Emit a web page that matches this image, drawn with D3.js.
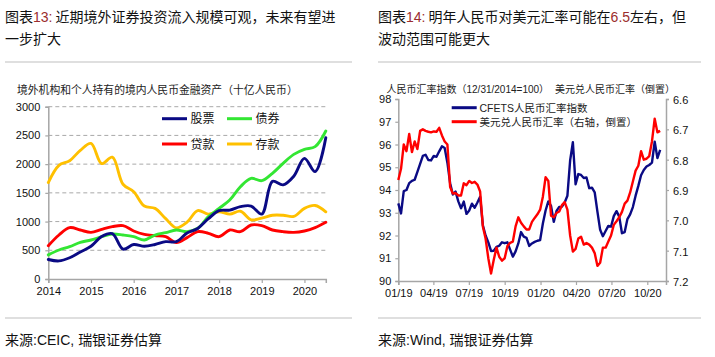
<!DOCTYPE html>
<html><head><meta charset="utf-8">
<script src="https://cdn.jsdelivr.net/npm/d3@7"></script>
<style>
body{margin:0;background:#fff}
svg{display:block}
text{font-family:"Liberation Sans",Arial,"Noto Sans CJK SC",sans-serif;fill:#111}
.cjk{font-family:"Noto Sans CJK SC","Liberation Sans",sans-serif}
</style>
</head><body>
<svg id="c" width="715" height="357"></svg>
<script>
// ---------- Left chart data (十亿人民币) ----------
const quarters = [2014,2014.25,2014.5,2014.75,2015,2015.25,2015.5,2015.75,2016,2016.25,2016.5,2016.75,2017,2017.25,2017.5,2017.75,2018,2018.25,2018.5,2018.75,2019,2019.25,2019.5,2019.75,2020,2020.25,2020.5];
const stocks   = [340,315,370,470,570,740,790,520,600,570,600,650,650,800,880,1050,1190,1200,1260,1270,1130,1700,1640,1790,2100,1870,2460];
const bonds    = [420,505,563,638,679,737,783,766,737,679,766,807,853,824,882,1085,1230,1375,1607,1752,1712,1840,2014,2170,2258,2304,2577];
const loans    = [580,766,894,853,812,865,911,929,836,778,755,737,633,720,824,795,737,853,824,940,929,853,824,812,836,894,987];
const deposits = [1680,1980,2060,2240,2360,2010,2120,1650,1520,1270,1230,1050,890,990,1190,1130,1170,1130,1180,1030,1060,1110,1110,1090,1230,1280,1170];
const leftYTicks = [0,500,1000,1500,2000,2500,3000];
const leftXTicks = [2014,2015,2016,2017,2018,2019,2020];
const leftSeriesNames = ["股票","债券","贷款","存款"];

// ---------- Right chart data (weekly from 2019-01-01) ----------
const cfets = [93.41,92.97,93.95,94.0,94.3,94.4,94.45,94.8,95.15,95.5,95.55,95.32,95.3,95.5,95.46,95.7,95.92,95.85,95.2,94.3,
 93.8,93.93,93.5,93.2,93.49,92.95,93.1,93.4,93.22,93.45,93.7,92.45,92.0,91.7,91.32,91.33,91.5,91.55,91.7,91.66,
 91.7,91.38,91.07,91.3,91.65,92.15,91.95,91.9,91.54,91.65,91.72,91.77,91.8,92.53,93.1,93.5,93.3,92.6,93.08,93.26,
 93.27,93.45,93.75,95.3,96.1,94.25,94.7,94.66,94.53,94.55,94.08,94.1,93.9,93.05,92.25,91.97,92.2,92.42,92.39,92.85,
 93.07,92.83,92.1,92.15,92.72,92.93,93.25,93.75,94.18,94.65,94.88,95.03,95.1,95.2,96.12,95.4,95.76];
const usdcny = [6.867,6.83,6.75,6.772,6.715,6.775,6.74,6.765,6.705,6.70,6.705,6.708,6.71,6.707,6.708,6.695,6.72,6.74,6.75,6.89,
 6.912,6.91,6.918,6.918,6.878,6.884,6.87,6.877,6.873,6.882,6.905,7.02,7.06,7.125,7.175,7.13,7.09,7.12,7.133,7.125,
 7.085,7.074,7.07,7.02,6.99,7.008,7.02,7.03,7.03,7.005,6.992,6.98,6.965,6.922,6.858,6.87,6.985,6.99,6.976,6.971,
 6.95,6.94,6.965,7.05,7.103,7.094,7.06,7.054,7.08,7.075,7.08,7.09,7.108,7.15,7.14,7.09,7.09,7.07,7.05,7.015,
 7.003,6.99,6.972,6.945,6.935,6.908,6.872,6.836,6.82,6.772,6.80,6.797,6.788,6.74,6.665,6.71,6.705];
const rightLeftTicks = [90,91,92,93,94,95,96,97,98];
const rightRightTicks = [6.6,6.7,6.8,6.9,7.0,7.1,7.2];
const rightXTicks = ["2019-01-01","2019-04-01","2019-07-01","2019-10-01","2020-01-01","2020-04-01","2020-07-01","2020-10-01"];
const rightSeriesNames = ["CFETS人民币汇率指数","美元兑人民币汇率（右轴，倒置）"];

const svg = d3.select("#c");
const parse = d3.timeParse("%Y-%m-%d");

// ---------- Titles ----------
function title(x, y, parts){
  const t = svg.append("text").attr("x",x).attr("y",y).attr("class","cjk").style("font-size","14px");
  parts.forEach(p=>{
    const s = t.append("tspan").text(p[0]);
    if(p[1]) s.style("fill",p[1]).style("font-family","'Liberation Sans',Arial,sans-serif");
  });
}
const numCol = "#9b2d2d";
title(5,22,[["图表"],["13:",numCol],[" 近期境外证券投资流入规模可观，未来有望进"]]);
title(5,44,[["一步扩大"]]);
title(378,22,[["图表"],["14:",numCol],[" 明年人民币对美元汇率可能在"],["6.5",numCol],["左右，但"]]);
title(378,44,[["波动范围可能更大"]]);

// rules
[[5,352],[378,701]].forEach(r=>{
  svg.append("line").attr("x1",r[0]).attr("x2",r[1]).attr("y1",62).attr("y2",62).attr("stroke","#d4d4d4").attr("stroke-width",1.5);
  svg.append("line").attr("x1",r[0]).attr("x2",r[1]).attr("y1",318).attr("y2",318).attr("stroke","#d4d4d4").attr("stroke-width",1.5);
});
svg.append("text").attr("x",5).attr("y",345).attr("class","cjk").style("font-size","14px")
  .html('来源<tspan style="font-family:Liberation Sans,Arial">:CEIC, </tspan>瑞银证券估算');
svg.append("text").attr("x",378).attr("y",345).attr("class","cjk").style("font-size","14px")
  .html('来源<tspan style="font-family:Liberation Sans,Arial">:Wind, </tspan>瑞银证券估算');

// ---------- Left chart ----------
svg.append("text").attr("x",17).attr("y",94).attr("class","cjk").style("font-size","10.8px").style("fill","#222")
  .text("境外机构和个人持有的境内人民币金融资产（十亿人民币）");

const xL = d3.scaleLinear().domain([2014,2020.5]).range([48.3,325.8]);
const yL = d3.scaleLinear().domain([0,3000]).range([279,106.7]);
const axCol = "#a6a6a6";

// gridlines
svg.append("g").selectAll("line").data(leftYTicks.filter(d=>d>0)).join("line")
  .attr("x1",xL(2014)).attr("x2",xL(2020.5)).attr("y1",d=>yL(d)).attr("y2",d=>yL(d))
  .attr("stroke","#a9a9a9").attr("stroke-width",1).attr("stroke-dasharray","4,3");

const gyL = svg.append("g").attr("transform",`translate(${xL(2014)},0)`)
  .call(d3.axisLeft(yL).tickValues(leftYTicks).tickSize(3).tickFormat(d3.format("d")));
const gxL = svg.append("g").attr("transform",`translate(0,${yL(0)})`)
  .call(d3.axisBottom(xL).tickValues(leftXTicks).tickSize(4).tickFormat(d3.format("d")));
[gyL,gxL].forEach(g=>{
  g.select(".domain").attr("stroke",axCol).attr("stroke-width",1.5);
  g.selectAll(".tick line").attr("stroke",axCol).attr("stroke-width",1.2);
  g.selectAll(".tick text").style("font-size","11px").style("fill","#111").style("font-family","'Liberation Sans',Arial,sans-serif");
});
gyL.selectAll(".tick text").attr("x",-8);
gxL.selectAll(".tick text").attr("y",8);

const leftColors = ["#0a0a84","#33e633","#ff0000","#ffc000"];
const leftData = [stocks,bonds,loans,deposits];
const lineL = d3.line().x((d,i)=>xL(quarters[i])).y(d=>yL(d)).curve(d3.curveCatmullRom.alpha(0.5));
// draw order: deposits, loans, bonds, stocks
[3,2,1,0].forEach(k=>{
  svg.append("path").attr("d",lineL(leftData[k])).attr("fill","none")
    .attr("stroke",leftColors[k]).attr("stroke-width",2.9).attr("stroke-linejoin","round").attr("stroke-linecap","round");
});
// legend
const legPos = [[162,118.7],[227,118.7],[162,144],[227,144]];
leftSeriesNames.forEach((n,k)=>{
  const [lx,ly] = legPos[k];
  svg.append("line").attr("x1",lx).attr("x2",lx+25).attr("y1",ly).attr("y2",ly)
    .attr("stroke",leftColors[k]).attr("stroke-width",3);
  svg.append("text").attr("x",lx+28.5).attr("y",ly+4.5).attr("class","cjk").style("font-size","12px").text(n);
});

// ---------- Right chart ----------
svg.append("text").attr("x",386.5).attr("y",92.5).attr("class","cjk").style("font-size","10px").style("fill","#222")
  .html('人民币汇率指数（<tspan style="font-family:Liberation Sans,Arial">12/31/2014=100</tspan>）');
svg.append("text").attr("x",555).attr("y",92.5).attr("class","cjk").style("font-size","10px").style("fill","#222")
  .text("美元兑人民币汇率（倒置）");

const xR = d3.scaleTime().domain([parse("2019-01-01"),parse("2020-11-18")]).range([398.3,666]);
const yRL = d3.scaleLinear().domain([90,98]).range([281,99]);
const yRR = d3.scaleLinear().domain([6.6,7.2]).range([99,281]);
const weekDates = cfets.map((d,i)=>d3.timeDay.offset(parse("2019-01-01"),7*i));

const gA = svg.append("g").attr("transform",`translate(${xR.range()[0]},0)`)
  .call(d3.axisLeft(yRL).tickValues(rightLeftTicks).tickSize(3).tickFormat(d3.format("d")));
const gB = svg.append("g").attr("transform",`translate(${xR.range()[1]},0)`)
  .call(d3.axisRight(yRR).tickValues(rightRightTicks).tickSize(3).tickFormat(d3.format(".1f")));
const gC = svg.append("g").attr("transform",`translate(0,${yRL(90)})`)
  .call(d3.axisBottom(xR).tickValues(rightXTicks.map(parse)).tickSize(4).tickFormat(d3.timeFormat("%m/%y")));
[gA,gB,gC].forEach(g=>{
  g.select(".domain").attr("stroke",axCol).attr("stroke-width",1.5);
  g.selectAll(".tick line").attr("stroke",axCol).attr("stroke-width",1.2);
  g.selectAll(".tick text").style("font-size","11px").style("fill","#111").style("font-family","'Liberation Sans',Arial,sans-serif");
});
gA.selectAll(".tick text").attr("x",-7);
gB.selectAll(".tick text").attr("x",7).attr("dy","0.4em");
gC.selectAll(".tick text").attr("y",8);

const lineA = d3.line().x((d,i)=>xR(weekDates[i])).y(d=>yRL(d));
const lineB = d3.line().x((d,i)=>xR(weekDates[i])).y(d=>yRR(d));
svg.append("path").attr("d",lineA(cfets)).attr("fill","none").attr("stroke","#0a0a84").attr("stroke-width",2.4).attr("stroke-linejoin","round");
svg.append("path").attr("d",lineB(usdcny)).attr("fill","none").attr("stroke","#ff0000").attr("stroke-width",2.4).attr("stroke-linejoin","round");

const rCols = ["#0a0a84","#ff0000"];
rightSeriesNames.forEach((n,k)=>{
  const ly = 107.7 + k*14;
  svg.append("line").attr("x1",451.7).attr("x2",476.7).attr("y1",ly).attr("y2",ly).attr("stroke",rCols[k]).attr("stroke-width",3);
  svg.append("text").attr("x",479.5).attr("y",ly+4).attr("class","cjk").style("font-size","10.5px").style("fill","#222")
    .html(k===0 ? '<tspan style="font-family:Liberation Sans,Arial">CFETS</tspan>人民币汇率指数' : n);
});
</script>
</body></html>
